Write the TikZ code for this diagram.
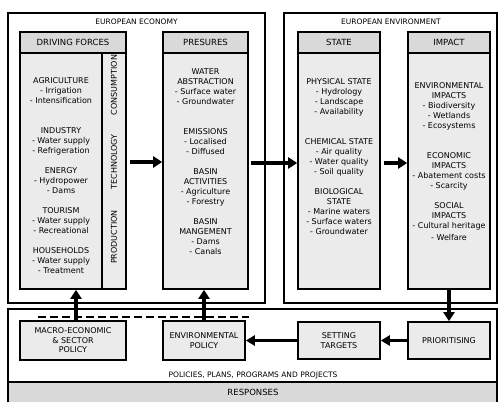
\documentclass[tikz,border=0pt]{standalone}
\usepackage{fontspec}
\setmainfont{DejaVu Sans}
\usetikzlibrary{arrows.meta}
\definecolor{boxgray}{HTML}{EBEBEB}
\definecolor{headgray}{HTML}{D9D9D9}

\begin{document}
\begin{tikzpicture}[x=1pt, y=-1pt]
	\tikzset{box/.style={rectangle, draw=black, line width=1.6pt, fill=boxgray, inner sep=0pt, align=center, font=\fontsize{8}{9.5}\selectfont}};
	\tikzset{head/.style={box, fill=headgray, minimum height=21pt, font=\fontsize{8.5}{10}\selectfont}};
	\tikzset{col/.style={box, minimum height=236pt}};
	\tikzset{txt/.style={anchor=north, inner sep=0pt, align=center, font=\fontsize{8}{10}\selectfont}};
	\tikzset{side/.style={inner sep=0pt, rotate=90, font=\fontsize{8}{10}\selectfont}};
	\tikzset{title/.style={inner sep=0pt, font=\fontsize{7.5}{9}\selectfont}};
	\tikzset{frame/.style={draw=black, line width=1.2pt}};
	\tikzset{fat/.style={-{Triangle[length=9pt, width=11pt]}, line width=4pt}};
	\tikzset{thin/.style={-{Triangle[length=9pt, width=10pt]}, line width=3pt}};

	\useasboundingbox (0,0) rectangle (498,402);

	% frames
	\draw[frame] (8,13) rectangle (265,303);
	\draw[frame] (284,13) rectangle (497,303);
	\fill[headgray] (8,382) rectangle (497,402);
	\draw[frame] (8,402) -- (8,309) -- (497,309) -- (497,402);
	\draw[frame] (8,382) -- (497,382);

	\node[title] (eco) at (136.5,22) {EUROPEAN ECONOMY};
	\node[title] (env) at (391,22) {EUROPEAN ENVIRONMENT};
	\node[title] (ppp) at (253,375) {POLICIES, PLANS, PROGRAMS AND PROJECTS};
	\node[title, font=\fontsize{8.5}{10}\selectfont] (resp) at (253,392) {RESPONSES};

	% columns
	\node[head, minimum width=106pt] (dfhead) at (73,42.5) {DRIVING FORCES};
	\node[col, minimum width=82pt] (dfbody) at (61,171) {};
	\node[col, minimum width=24pt] (dfside) at (114,171) {};
	\node[head, minimum width=85pt] (prhead) at (205.5,42.5) {PRESURES};
	\node[col, minimum width=85pt] (prbody) at (205.5,171) {};
	\node[head, minimum width=82pt] (sthead) at (339,42.5) {STATE};
	\node[col, minimum width=82pt] (stbody) at (339,171) {};
	\node[head, minimum width=82pt] (imhead) at (449,42.5) {IMPACT};
	\node[col, minimum width=82pt] (imbody) at (449,171) {};

	\node[side] (cons) at (114,85) {CONSUMPTION};
	\node[side] (tech) at (114,162) {TECHNOLOGY};
	\node[side] (prod) at (114,237) {PRODUCTION};

	\node[txt] (dftxt) at (61,77) {AGRICULTURE\\- Irrigation\\- Intensification\\[20pt]INDUSTRY\\- Water supply\\- Refrigeration\\[10pt]ENERGY\\- Hydropower\\- Dams\\[10pt]TOURISM\\- Water supply\\- Recreational\\[10pt]HOUSEHOLDS\\- Water supply\\- Treatment};
	\node[txt] (prtxt) at (205.5,68) {WATER\\ABSTRACTION\\- Surface water\\- Groundwater\\[20pt]EMISSIONS\\- Localised\\- Diffused\\[10pt]BASIN\\ACTIVITIES\\- Agriculture\\- Forestry\\[10pt]BASIN\\MANGEMENT\\- Dams\\- Canals};
	\node[txt] (sttxt) at (339,78) {PHYSICAL STATE\\- Hydrology\\- Landscape\\- Availability\\[20pt]CHEMICAL STATE\\- Air quality\\- Water quality\\- Soil quality\\[10pt]BIOLOGICAL\\STATE\\- Marine waters\\- Surface waters\\- Groundwater};
	\node[txt] (imtxt) at (449,82) {ENVIRONMENTAL\\IMPACTS\\- Biodiversity\\- Wetlands\\- Ecosystems\\[20pt]ECONOMIC\\IMPACTS\\- Abatement costs\\- Scarcity\\[10pt]SOCIAL\\IMPACTS\\- Cultural heritage\\[2pt]- Welfare};

	% responses
	\node[box, minimum width=106pt, minimum height=39pt] (macro) at (73,340.5) {MACRO-ECONOMIC\\\& SECTOR\\POLICY};
	\node[box, minimum width=82pt, minimum height=39pt] (envpol) at (204,340.5) {ENVIRONMENTAL\\POLICY};
	\node[box, minimum width=82pt, minimum height=37pt] (target) at (339,340.5) {SETTING\\TARGETS};
	\node[box, minimum width=82pt, minimum height=37pt] (prio) at (449,340.5) {PRIORITISING};

	\coordinate (dl) at (38,317);
	\coordinate (dr) at (249,317);
	\draw[line width=2.5pt, dash pattern=on 8pt off 4pt] (dl) -- (dr);

	% arrows
	\draw[fat] ([xshift=3pt, yshift=9pt]dfside.east) -- ([yshift=9pt]prbody.west);
	\draw[fat] ([xshift=2pt, yshift=8pt]prbody.east) -- ([yshift=8pt]stbody.west);
	\draw[fat] ([xshift=3pt, yshift=8pt]stbody.east) -- ([yshift=8pt]imbody.west);
	\draw[fat] (imbody.south) -- (prio.north);
	\draw[thin] (prio.west) -- (target.east);
	\draw[thin] (target.west) -- (envpol.east);
	\draw[fat] ([xshift=3pt]macro.north) -- ([xshift=15pt]dfbody.south);
	\draw[fat] (envpol.north) -- (envpol.north |- prbody.south);
\end{tikzpicture}
\end{document}
